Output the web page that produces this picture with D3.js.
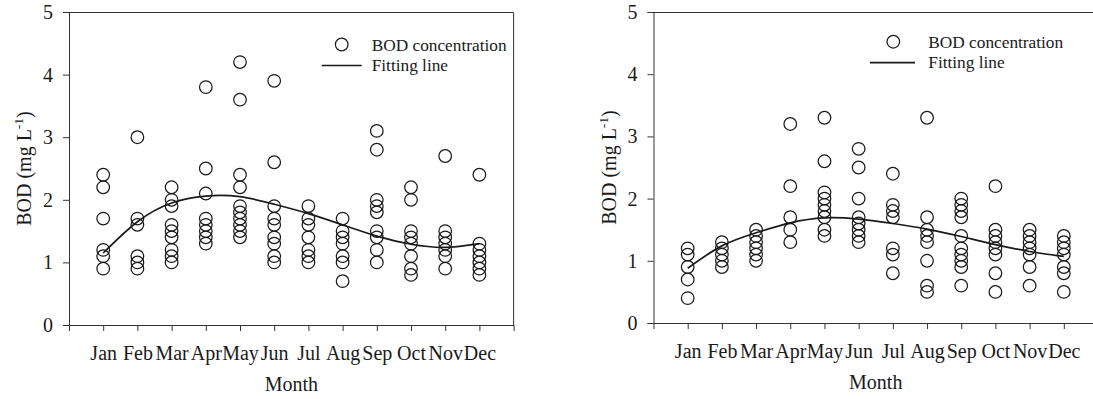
<!DOCTYPE html>
<html>
<head>
<meta charset="utf-8">
<script src="https://cdn.jsdelivr.net/npm/d3@7"></script>
<style>
  body { margin: 0; background: #fff; }
  svg { display: block; font-family: "Liberation Serif", "DejaVu Serif", serif; }
</style>
</head>
<body>
<script>
const months = ["Jan", "Feb", "Mar", "Apr", "May", "Jun", "Jul", "Aug", "Sep", "Oct", "Nov", "Dec"];
const yTicks = [0, 1, 2, 3, 4, 5];

// left panel: observed BOD per month (mg/L)
const leftBOD = [
  [2.4, 2.2, 1.7, 1.2, 1.1, 0.9],
  [3.0, 1.7, 1.6, 1.1, 1.0, 0.9],
  [2.2, 2.0, 1.9, 1.6, 1.5, 1.4, 1.2, 1.1, 1.0],
  [3.8, 2.5, 2.1, 1.7, 1.6, 1.5, 1.4, 1.3],
  [4.2, 3.6, 2.4, 2.2, 1.9, 1.8, 1.7, 1.6, 1.5, 1.4],
  [3.9, 2.6, 1.9, 1.7, 1.6, 1.4, 1.3, 1.1, 1.0],
  [1.9, 1.7, 1.6, 1.4, 1.2, 1.1, 1.0],
  [1.7, 1.5, 1.4, 1.3, 1.1, 1.0, 0.7],
  [3.1, 2.8, 2.0, 1.9, 1.8, 1.5, 1.4, 1.2, 1.0],
  [2.2, 2.0, 1.5, 1.4, 1.3, 1.1, 0.9, 0.8],
  [2.7, 1.5, 1.4, 1.3, 1.2, 1.1, 0.9],
  [2.4, 1.3, 1.2, 1.1, 1.0, 0.9, 0.8]
];
const leftFit = [1.15, 1.65, 1.95, 2.06, 2.05, 1.93, 1.78, 1.6, 1.42, 1.29, 1.24, 1.3];

// right panel
const rightBOD = [
  [1.2, 1.1, 0.9, 0.7, 0.4],
  [1.3, 1.2, 1.1, 1.0, 0.9],
  [1.5, 1.4, 1.3, 1.2, 1.1, 1.0],
  [3.2, 2.2, 1.7, 1.5, 1.3],
  [3.3, 2.6, 2.1, 2.0, 1.9, 1.8, 1.7, 1.5, 1.4],
  [2.8, 2.5, 2.0, 1.7, 1.6, 1.5, 1.4, 1.3],
  [2.4, 1.9, 1.8, 1.7, 1.2, 1.1, 0.8],
  [3.3, 1.7, 1.5, 1.4, 1.3, 1.0, 0.6, 0.5],
  [2.0, 1.9, 1.8, 1.7, 1.4, 1.2, 1.1, 1.0, 0.9, 0.6],
  [2.2, 1.5, 1.4, 1.3, 1.2, 1.1, 0.8, 0.5],
  [1.5, 1.4, 1.3, 1.2, 1.1, 0.9, 0.6],
  [1.4, 1.3, 1.2, 1.1, 0.9, 0.8, 0.5]
];
const rightFit = [0.88, 1.24, 1.45, 1.61, 1.69, 1.67, 1.6, 1.51, 1.39, 1.26, 1.15, 1.07];

const width = 1093;
const height = 399;
const ink = "#1a1a1a";
const axisFont = 20;

const svg = d3.select("body").append("svg")
  .attr("width", width)
  .attr("height", height);

function styleAxis(g) {
  g.attr("font-family", null).attr("font-size", axisFont);
  g.selectAll("text").attr("fill", ink);
  g.selectAll("line,path").attr("stroke", "#333");
}

function panel(obs, fit, p) {
  const x = d3.scaleLinear().domain([0, 13]).range([p.left, p.right]);
  const y = d3.scaleLinear().domain([0, 5]).range([p.bottom, p.top]);
  const g = svg.append("g");

  // frame (top + right)
  g.append("path")
    .attr("fill", "none")
    .attr("stroke", "#333")
    .attr("d", `M${p.left},${p.top + 0.5}H${p.right}V${p.bottom}`);

  g.append("g")
    .attr("transform", `translate(0,${p.bottom})`)
    .call(d3.axisBottom(x)
      .tickValues(d3.range(1, 13))
      .tickFormat(i => months[i - 1])
      .tickSize(6)
      .tickPadding(15))
    .call(styleAxis);

  g.append("g")
    .attr("transform", `translate(${p.left},0)`)
    .call(d3.axisLeft(y).tickValues(yTicks).tickFormat(d3.format("d")).tickSize(6).tickPadding(10))
    .call(styleAxis);

  const pts = obs.flatMap((vals, i) => vals.map(v => ({ m: i + 1, v })));

  g.append("path")
    .datum(fit)
    .attr("fill", "none")
    .attr("stroke", ink)
    .attr("stroke-width", 1.7)
    .attr("d", d3.line().x((d, i) => x(i + 1)).y(d => y(d)).curve(d3.curveNatural));

  g.append("g")
    .selectAll("circle")
    .data(pts)
    .join("circle")
    .attr("cx", d => x(d.m))
    .attr("cy", d => y(d.v))
    .attr("r", 6.3)
    .attr("fill", "none")
    .attr("stroke", ink)
    .attr("stroke-width", 1.25);

  g.append("text")
    .attr("x", (p.left + p.right) / 2)
    .attr("y", p.monthY)
    .attr("text-anchor", "middle")
    .attr("font-size", axisFont)
    .attr("fill", ink)
    .text("Month");

  const yl = g.append("text")
    .attr("transform", `translate(${p.left - 38},${(p.top + p.bottom) / 2}) rotate(-90)`)
    .attr("text-anchor", "middle")
    .attr("font-size", axisFont)
    .attr("fill", ink);
  yl.append("tspan").text("BOD (mg L");
  yl.append("tspan").attr("font-size", 13.5).attr("dy", -8).text("-1");
  yl.append("tspan").attr("dy", 8).text(")");

  // legend
  const lg = g.append("g").attr("font-size", 17.3).attr("fill", ink);
  lg.append("circle")
    .attr("cx", p.legX + p.legCircle).attr("cy", p.legY)
    .attr("r", 6.3).attr("fill", "none").attr("stroke", ink).attr("stroke-width", 1.25);
  lg.append("text").attr("x", p.legText).attr("y", p.legY).attr("dy", "0.35em").text("BOD concentration");
  lg.append("line")
    .attr("x1", p.legX).attr("x2", p.legX + p.legLine)
    .attr("y1", p.legY + 21).attr("y2", p.legY + 21)
    .attr("stroke", ink).attr("stroke-width", 1.7);
  lg.append("text").attr("x", p.legText).attr("y", p.legY + 20).attr("dy", "0.35em").text("Fitting line");
}

panel(leftBOD, leftFit, {
  left: 69, right: 513.6, top: 12, bottom: 325, monthY: 391,
  legX: 321.7, legCircle: 20, legLine: 40, legText: 371.7, legY: 44.5
});
panel(rightBOD, rightFit, {
  left: 653.5, right: 1098, top: 12, bottom: 323, monthY: 389,
  legX: 870, legCircle: 23.3, legLine: 45, legText: 928.3, legY: 41.7
});
</script>
</body>
</html>
